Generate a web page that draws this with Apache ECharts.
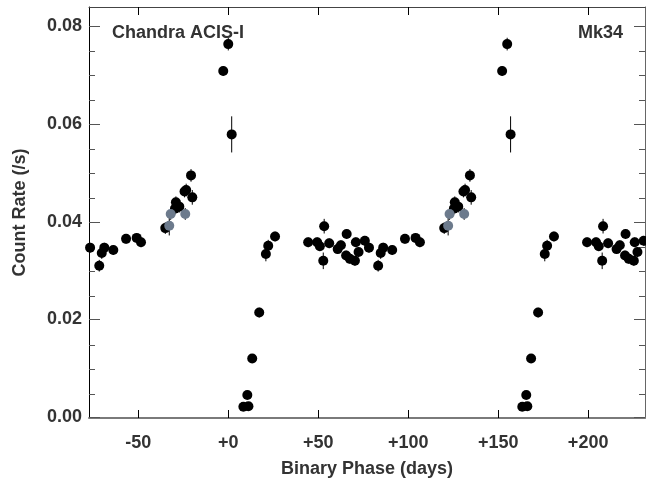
<!DOCTYPE html>
<html>
<head>
<meta charset="utf-8">
<script src="https://cdn.jsdelivr.net/npm/echarts@6/dist/echarts.min.js"></script>
<style>
html,body{margin:0;padding:0;background:#fff;}
#chart{width:646px;height:483px;}
</style>
</head>
<body>
<div id="chart"></div>
<script>
// Orbital period used to fold the light curve (days)
const period = 155;
// Black points: binary phase (days), count rate (/s), error (/s)
const blackPhase = [-76.8,-71.7,-70.3,-68.9,-63.9,-56.8,-50.9,-48.5,
  -35.0,-29.6,-29.1,-27.2,-24.3,-23.4,-20.7,-20.0,
  -2.8,0.0,1.9,
  8.4,11.2,10.6,13.3,17.2,
  20.9,22.2,26.0,
  44.4,49.4,50.9,53.3,52.8,56.1,60.8,62.6,65.8,65.5,67.6,70.9,72.4,70.4,75.9];
const blackRate = [0.0347,0.0310,0.0336,0.0347,0.0342,0.0365,0.0367,0.0358,
  0.0387,0.0427,0.0440,0.0431,0.0462,0.0465,0.0495,0.0450,
  0.0709,0.0764,0.0579,
  0.0021,0.0022,0.0045,0.0120,0.0214,
  0.0334,0.0351,0.0370,
  0.0358,0.0358,0.0350,0.0391,0.0320,0.0356,0.0344,0.0352,0.0375,0.0331,0.0324,0.0358,0.0338,0.0320,0.0361];
const blackErr = [0.0010,0.0012,0.0012,0.0010,0.0010,0.0010,0.0010,0.0010,
  0.0012,0.0012,0.0012,0.0012,0.0012,0.0013,0.0013,0.0015,
  0.0010,0.0013,0.0037,
  0.0005,0.0005,0.0006,0.0008,0.0010,
  0.0015,0.0012,0.0010,
  0.0010,0.0010,0.0010,0.0015,0.0017,0.0010,0.0010,0.0010,0.0010,0.0010,0.0010,0.0010,0.0010,0.0010,0.0010];
// Grey points
const greyPhase = [-32.0,-23.9,-32.8];
const greyRate = [0.0416,0.0416,0.0392];
const greyErr = [0.0012,0.0012,0.0020];
// Tick labels
const xTicks = [-50,0,50,100,150,200];
const yTicks = [0,0.02,0.04,0.06,0.08];
const yMinor = [0.005,0.01,0.015,0.025,0.03,0.035,0.045,0.05,0.055,0.065,0.07,0.075];

function fold(ph, rt, er){
  const out = [];
  for (const shift of [0, period]) {
    for (let i = 0; i < ph.length; i++) out.push([ph[i] + shift, rt[i], er[i]]);
  }
  return out;
}
const blackData = fold(blackPhase, blackRate, blackErr);
const greyData = fold(greyPhase, greyRate, greyErr);

const X_MIN = -77.4, X_MAX = 231.6, Y_MIN = -0.0002, Y_MAX = 0.0840;
const labelFont = {fontFamily:'Liberation Sans, Arial, sans-serif', fontWeight:'bold', fontSize:18, color:'#333'};
const gridBox = {left:89, right:1, top:7, bottom:63.5};

function errBar(params, api){
  const x = api.value(0), y = api.value(1), e = api.value(2);
  const p1 = api.coord([x, y + e]), p2 = api.coord([x, y - e]);
  return {type:'line', shape:{x1:p1[0], y1:p1[1], x2:p2[0], y2:p2[1]}, style:{stroke:'#000', lineWidth:1}};
}

const chart = echarts.init(document.getElementById('chart'), null, {renderer:'canvas'});
chart.setOption({
  animation:false,
  backgroundColor:'#fff',
  grid:[{...gridBox}, {...gridBox}],
  xAxis:[
    {type:'value', gridIndex:0, position:'bottom', min:X_MIN, max:X_MAX,
     axisLine:{show:true, onZero:false, lineStyle:{color:'#7a7a7a', width:2}},
     axisTick:{show:true, inside:true, length:8, customValues:xTicks, lineStyle:{color:'#000'}},
     axisLabel:{show:true, customValues:xTicks, margin:16, formatter:v => (v >= 0 ? '+' + v : '' + v), ...labelFont},
     splitLine:{show:false},
     name:'Binary Phase (days)', nameLocation:'middle', nameGap:42,
     nameTextStyle:{...labelFont}},
    {type:'value', gridIndex:0, position:'top', min:X_MIN, max:X_MAX,
     axisLine:{show:true, onZero:false, lineStyle:{color:'#444', width:1}},
     axisTick:{show:true, inside:true, length:8, customValues:xTicks, lineStyle:{color:'#000'}},
     axisLabel:{show:false}, splitLine:{show:false}},
    {type:'value', gridIndex:1, show:false, min:X_MIN, max:X_MAX}
  ],
  yAxis:[
    {type:'value', gridIndex:0, position:'left', min:Y_MIN, max:Y_MAX,
     axisLine:{show:true, onZero:false, lineStyle:{color:'#000', width:1}},
     axisTick:{show:true, inside:true, length:11, customValues:yTicks, lineStyle:{color:'#555'}},
     axisLabel:{show:true, customValues:yTicks, margin:7, formatter:v => v.toFixed(2), ...labelFont},
     splitLine:{show:false},
     name:'Count Rate (/s)', nameLocation:'middle', nameGap:60,
     nameTextStyle:{...labelFont}},
    {type:'value', gridIndex:0, position:'right', min:Y_MIN, max:Y_MAX,
     axisLine:{show:true, onZero:false, lineStyle:{color:'#666', width:1}},
     axisTick:{show:true, inside:true, length:11, customValues:yTicks, lineStyle:{color:'#555'}},
     axisLabel:{show:false}, splitLine:{show:false}},
    {type:'value', gridIndex:1, position:'left', min:Y_MIN, max:Y_MAX,
     axisLine:{show:false, onZero:false},
     axisTick:{show:true, inside:true, length:6, customValues:yMinor, lineStyle:{color:'#555'}},
     axisLabel:{show:false}, splitLine:{show:false}},
    {type:'value', gridIndex:1, position:'right', min:Y_MIN, max:Y_MAX,
     axisLine:{show:false, onZero:false},
     axisTick:{show:true, inside:true, length:6, customValues:yMinor, lineStyle:{color:'#555'}},
     axisLabel:{show:false}, splitLine:{show:false}}
  ],
  graphic:[
    {type:'text', left:112, top:24, style:{text:'Chandra ACIS-I', font:'bold 18px "Liberation Sans", Arial, sans-serif', fill:'#333'}},
    {type:'text', right:23, top:24, style:{text:'Mk34', font:'bold 18px "Liberation Sans", Arial, sans-serif', fill:'#333'}}
  ],
  series:[
    {type:'custom', name:'errBlack', xAxisIndex:0, yAxisIndex:0, renderItem:errBar, data:blackData, encode:{x:0, y:1}, clip:true, z:1, silent:true},
    {type:'custom', name:'errGrey', xAxisIndex:0, yAxisIndex:0, renderItem:errBar, data:greyData, encode:{x:0, y:1}, clip:true, z:1, silent:true},
    {type:'scatter', name:'black', xAxisIndex:0, yAxisIndex:0, data:blackData, symbol:'circle', symbolSize:10, itemStyle:{color:'#000', opacity:1}, clip:true, z:2},
    {type:'scatter', name:'grey', xAxisIndex:0, yAxisIndex:0, data:greyData, symbol:'circle', symbolSize:10, itemStyle:{color:'#6c7a8c', opacity:1}, clip:true, z:3}
  ]
});
</script>
</body>
</html>
